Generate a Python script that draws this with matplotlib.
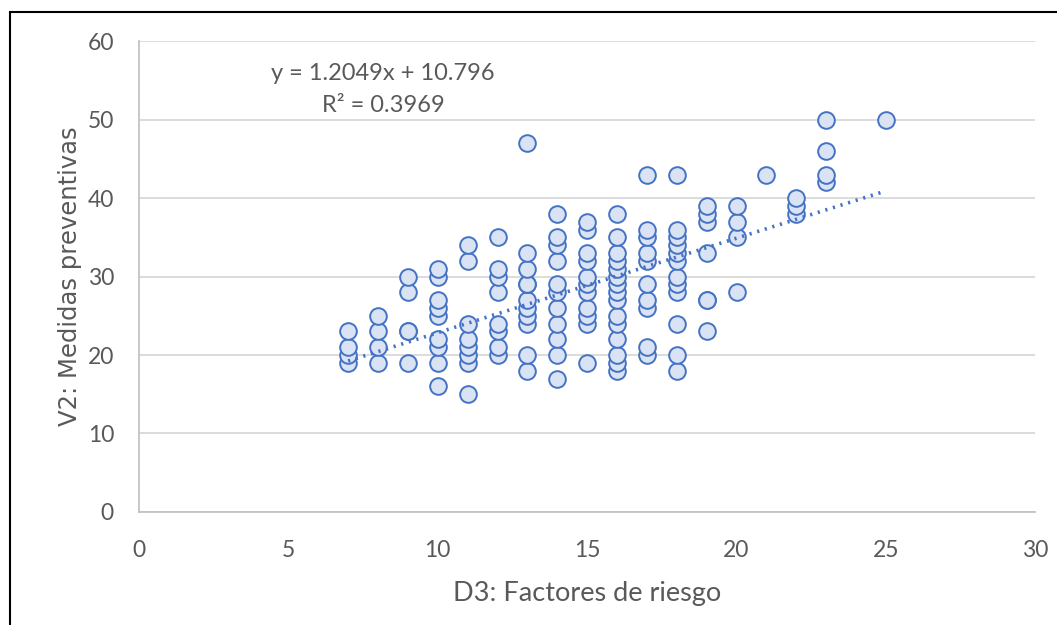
import matplotlib.pyplot as plt
from matplotlib.patches import Rectangle

# D3 scores (x) and the V2 scores seen at each x
x_levels = [7, 8, 9, 10, 11, 12, 13, 14, 15, 16, 17, 18, 19, 20, 21, 22, 23, 25]
y_by_x = [
    [19, 20, 21, 23],
    [19, 21, 23, 25],
    [19, 23, 23, 28, 30],
    [16, 19, 21, 22, 25, 26, 27, 30, 31],
    [15, 19, 20, 21, 22, 24, 32, 34],
    [20, 21, 23, 24, 28, 30, 31, 35],
    [18, 20, 24, 25, 26, 27, 29, 29, 31, 33, 47],
    [17, 20, 22, 24, 26, 28, 29, 32, 34, 35, 38],
    [19, 24, 25, 26, 28, 29, 30, 32, 33, 36, 37],
    [18, 19, 20, 22, 24, 25, 27, 28, 29, 30, 31, 32, 33, 35, 38],
    [20, 21, 26, 27, 29, 32, 33, 35, 36, 43],
    [18, 20, 24, 28, 29, 30, 32, 33, 34, 35, 36, 43],
    [23, 27, 27, 33, 37, 38, 39],
    [28, 35, 37, 39],
    [43],
    [38, 39, 40],
    [42, 43, 46, 50],
    [50],
]
slope = 1.2049
intercept = 10.796
r2 = 0.3969

xs = [x for x, ys in zip(x_levels, y_by_x) for _ in ys]
ys = [y for row in y_by_x for y in row]

blue = '#4472C4'
fill = '#DAE3F3'
grey_txt = '#595959'

fig = plt.figure(figsize=(10.57, 6.25), dpi=100)
ax = fig.add_axes([0.1315, 0.181, 0.848, 0.753])

ax.scatter(xs, ys, s=12 ** 2, facecolor=fill, edgecolor=blue, linewidth=1.4, zorder=3)

x0, x1 = min(xs), max(xs)
ax.plot([x0, x1], [slope * x0 + intercept, slope * x1 + intercept],
        linestyle=(0, (0.6, 1.6)), color=blue, linewidth=2.6, zorder=4)

ax.set_xlim(0, 30)
ax.set_ylim(0, 60)
ax.set_xticks(range(0, 31, 5))
ax.set_yticks(range(0, 61, 10))
ax.grid(axis='y', color='#D9D9D9', linewidth=1.3)
ax.set_axisbelow(True)
for side in ['top', 'right']:
    ax.spines[side].set_visible(False)
for side in ['left', 'bottom']:
    ax.spines[side].set_color('#BFBFBF')
    ax.spines[side].set_linewidth(1.2)
ax.tick_params(axis='y', length=0, labelsize=16.5, labelcolor=grey_txt, pad=18)
ax.tick_params(axis='x', length=0, labelsize=16.5, labelcolor=grey_txt, pad=20)
for lab in ax.get_xticklabels() + ax.get_yticklabels():
    lab.set_family('Lato')

ax.set_xlabel('D3: Factores de riesgo', fontsize=19.5, color=grey_txt, family='Lato', labelpad=15)
ax.set_ylabel('V2: Medidas preventivas', fontsize=17.5, color=grey_txt, family='DejaVu Sans', labelpad=4)

fig.text(383 / 1057, 1 - 74 / 625, f'y = {slope}x + {intercept}', ha='center', va='center',
         fontsize=17, color=grey_txt, family='Lato')
fig.text(383 / 1057, 1 - 105 / 625, f'R² = {r2}', ha='center', va='center',
         fontsize=17, color=grey_txt, family='Lato')

fig.patches.append(Rectangle((10 / 1057, -0.01), 1.02, 1 - 12 / 625 + 0.01, transform=fig.transFigure,
                             fill=False, edgecolor='black', linewidth=1.5))

fig.savefig('out.png', dpi=100)
